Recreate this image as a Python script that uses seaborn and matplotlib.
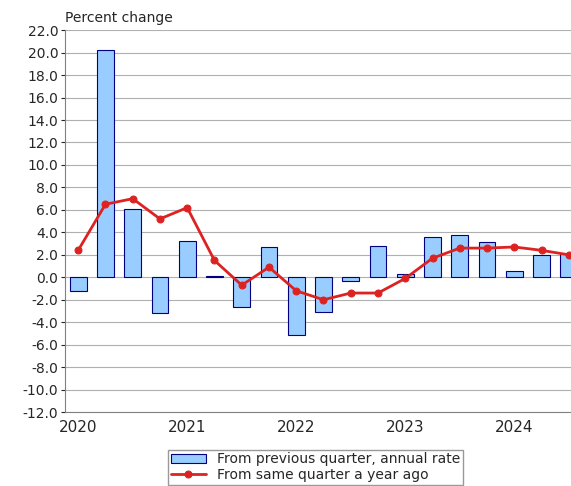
import matplotlib
matplotlib.use('Agg')
import matplotlib.pyplot as plt
import seaborn as sns
import numpy as np

quarters = np.arange(19)
qoq_annual = [-1.2, 20.2, 6.1, -3.2, 3.2, 0.1, -2.6, 2.7, -5.1, -3.1, -0.3, 2.8,
              0.3, 3.6, 3.8, 3.1, 0.6, 2.0, 2.1]
yoy = [2.4, 6.5, 7.0, 5.2, 6.2, 1.5, -0.7, 0.9, -1.2, -2.0, -1.4, -1.4,
       -0.1, 1.7, 2.6, 2.6, 2.7, 2.4, 2.0]
year_labels = ['2020', '2021', '2022', '2023', '2024']

sns.set_style('white')
plt.rcParams['font.family'] = ['DejaVu Sans']

fig = plt.figure(figsize=(5.71, 4.86), dpi=100)
ax = fig.add_axes([0.114, 0.152, 0.886, 0.786])

sns.barplot(x=quarters, y=qoq_annual, native_scale=True, color='#99ccff',
            edgecolor='#000080', linewidth=0.8, width=0.62, saturation=1, ax=ax,
            label='From previous quarter, annual rate')
sns.lineplot(x=quarters, y=yoy, color='#dd2222', marker='o', markersize=5,
             markeredgecolor='#dd2222', linewidth=2, ax=ax,
             label='From same quarter a year ago')

ax.set_xlim(-0.48, 18.08)
ax.set_ylim(-12, 22)
ax.set_yticks(np.arange(-12, 23, 2))
ax.set_yticklabels([f'{v:.1f}' for v in np.arange(-12, 23, 2)], fontsize=10)
ax.set_xticks(np.arange(0, 19, 4))
ax.set_xticklabels(year_labels, fontsize=11)
ax.tick_params(axis='x', length=0, pad=6)
ax.tick_params(axis='y', length=3, left=True, pad=2)
ax.yaxis.grid(True, color='#b0b0b0', linewidth=0.8)
ax.set_axisbelow(True)
for s in ['top', 'right']:
    ax.spines[s].set_visible(False)
ax.spines['left'].set_color('#808080')
ax.spines['bottom'].set_color('#808080')
ax.set_xlabel('')
ax.set_ylabel('')
fig.text(0.114, 0.955, 'Percent change', fontsize=10, ha='left')

handles, labels = ax.get_legend_handles_labels()
order = [labels.index('From previous quarter, annual rate'),
         labels.index('From same quarter a year ago')]
ax.legend([handles[i] for i in order], [labels[i] for i in order],
          loc='upper left', bbox_to_anchor=(0.19, -0.08), fontsize=10,
          frameon=True, fancybox=False, edgecolor='#808080',
          borderpad=0.2, labelspacing=0.1, handlelength=2.5)

fig.savefig('out.png', dpi=100)
